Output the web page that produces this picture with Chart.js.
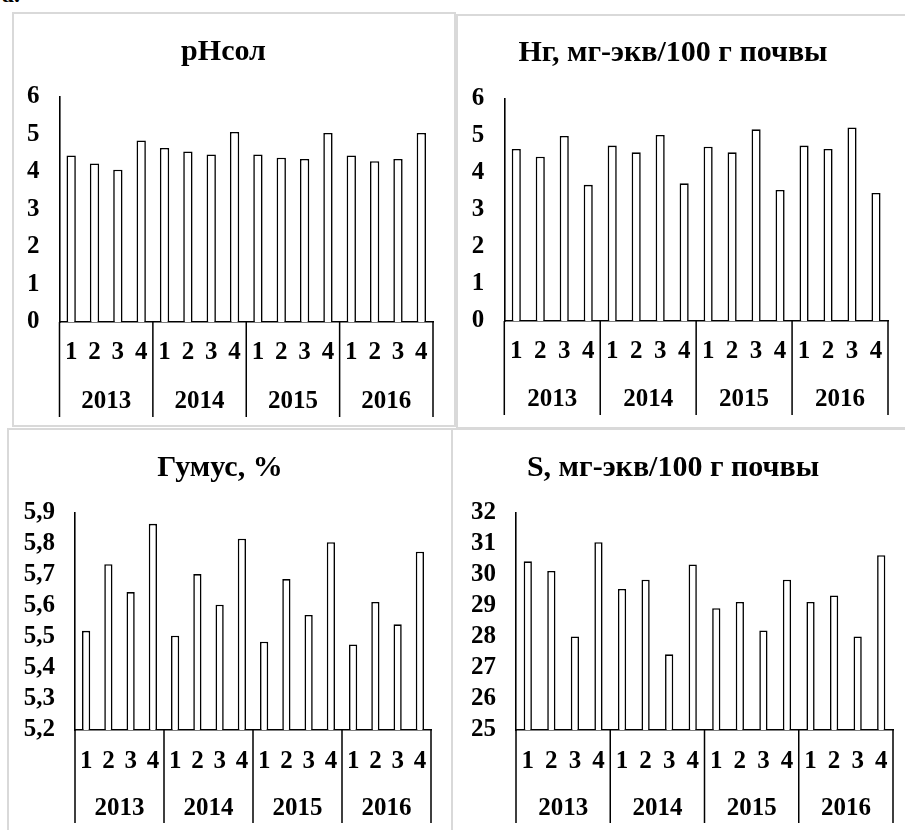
<!DOCTYPE html>
<html>
<head>
<meta charset="utf-8">
<title>Показатели почвы 2013–2016</title>
<script src="https://cdn.jsdelivr.net/npm/chart.js@4.4.1/dist/chart.umd.min.js"></script>
<style>
  html, body { margin: 0; padding: 0; background: #fff; }
  body { position: relative; width: 905px; height: 830px; overflow: hidden; }
  .panel { position: absolute; border: 2px solid #d9d9d9; background: #fff; }
  .panel canvas { display: block; }
  #tag { position: absolute; left: 2px; top: -18px; font: bold 24px/24px "Liberation Serif", "Times New Roman", serif; color: #000; }
</style>
</head>
<body>
<div id="tag">а.</div>
<div class="panel" style="left:12px;top:12px"><canvas id="chartPh" width="440" height="411"></canvas></div>
<div class="panel" style="left:456px;top:14px"><canvas id="chartHg" width="454" height="411"></canvas></div>
<div class="panel" style="left:7px;top:428px"><canvas id="chartHumus" width="442" height="400"></canvas></div>
<div class="panel" style="left:451px;top:428px"><canvas id="chartS" width="464" height="400"></canvas></div>

<script>
/* ── Data ──────────────────────────────────────────────── */
const YEARS    = ["2013", "2014", "2015", "2016"];
const QUARTERS = ["1", "2", "3", "4"];

const PH_VALUES    = [4.44, 4.23, 4.06, 4.84, 4.64, 4.55, 4.47, 5.07, 4.47, 4.38, 4.35, 5.04, 4.44, 4.29, 4.35, 5.04];
const HG_VALUES    = [4.65, 4.44, 5.00, 3.68, 4.74, 4.56, 5.03, 3.72, 4.71, 4.56, 5.18, 3.54, 4.74, 4.65, 5.23, 3.46];
const HUMUS_VALUES = [5.52, 5.735, 5.645, 5.865, 5.504, 5.703, 5.604, 5.817, 5.485, 5.687, 5.571, 5.806, 5.476, 5.613, 5.541, 5.775];
const S_VALUES     = [30.44, 30.13, 28.02, 31.06, 29.55, 29.85, 27.44, 30.34, 28.93, 29.13, 28.21, 29.85, 29.13, 29.34, 28.02, 30.64];

const LABELS = YEARS.flatMap(() => QUARTERS);

/* ── Styling ───────────────────────────────────────────── */
const SERIF      = '"Liberation Serif", "Times New Roman", serif';
const TICK_SIZE  = 25;
const TITLE_SIZE = 30;
const INK        = "#000";

Chart.defaults.font.family = SERIF;

// vertical separators between years, from x axis line down through both label rows
const groupLines = {
  id: "groupLines",
  afterDraw(chart) {
    const x = chart.scales.x, x2 = chart.scales.x2;
    const step = x.getPixelForValue(1) - x.getPixelForValue(0);
    const ctx = chart.ctx;
    ctx.save();
    ctx.strokeStyle = INK;
    ctx.lineWidth = 1.5;
    ctx.beginPath();
    for (let g = 0; g <= YEARS.length; g++) {
      const px = x.getPixelForValue(g * QUARTERS.length) - step / 2;
      ctx.moveTo(px, x.top);
      ctx.lineTo(px, x2.bottom);
    }
    ctx.stroke();
    ctx.restore();
  },
};

function commaFmt(v) { return Number(v).toFixed(1).replace(".", ","); }

/* ── Panel builder ─────────────────────────────────────── */
function makePanel(id, o) {
  const g = o.geom;
  const half = TICK_SIZE * 1.2 / 2;
  const mid  = (g.row1 + g.row2) / 2;
  const canvas = document.getElementById(id);
  const tickFont = { family: SERIF, size: TICK_SIZE, weight: "bold" };

  new Chart(canvas, {
    type: "bar",
    data: {
      labels: LABELS,
      datasets: [{
        data: o.values,
        backgroundColor: "#fff",
        borderColor: INK,
        borderWidth: 1.6,
        barPercentage: o.barPct,
        categoryPercentage: 1,
      }],
    },
    options: {
      responsive: false,
      animation: false,
      events: [],
      layout: { padding: { left: 0, right: g.padR, top: 0, bottom: canvas.height - g.sepBottom } },
      plugins: {
        legend: { display: false },
        tooltip: { enabled: false },
        title: {
          display: true,
          text: o.title,
          color: INK,
          font: { family: SERIF, size: TITLE_SIZE, weight: "bold" },
          padding: { top: g.titleY - TITLE_SIZE * 0.6, bottom: g.top - g.titleY - TITLE_SIZE * 0.6 },
        },
      },
      scales: {
        x: {
          type: "category",
          weight: 0,
          offset: true,
          grid: { display: false, drawTicks: false, offset: true },
          border: { display: true, color: INK, width: 1.6 },
          ticks: { color: INK, font: tickFont, padding: g.row1 - g.bottom - half, autoSkip: false, maxRotation: 0 },
          afterFit(s) { s.height = mid - g.bottom; },
        },
        x2: {
          type: "category",
          position: "bottom",
          weight: 1,
          labels: YEARS,
          offset: true,
          grid: { display: false, drawTicks: false },
          border: { display: false },
          ticks: { color: INK, font: tickFont, padding: g.row2 - mid - half, autoSkip: false, maxRotation: 0 },
          afterFit(s) { s.height = g.sepBottom - mid; },
        },
        y: {
          min: o.yMin,
          max: o.yMax,
          beginAtZero: false,
          grid: { display: false, drawTicks: false },
          border: { display: true, color: INK, width: 1.6 },
          ticks: { color: INK, font: tickFont, padding: 20, stepSize: o.step, autoSkip: false, callback: o.fmt },
          afterFit(s) { s.width = g.left; },
        },
      },
    },
    plugins: [groupLines],
  });
}

makePanel("chartPh", {
  title: "pHсол", values: PH_VALUES, yMin: 0, yMax: 6, step: 1, fmt: v => String(v), barPct: 0.4,
  geom: { left: 45.5, padR: 21, top: 83, bottom: 308, row1: 339, row2: 388, sepBottom: 403, titleY: 38 },
});

makePanel("chartHg", {
  title: "Нг, мг-экв/100 г почвы", values: HG_VALUES, yMin: 0, yMax: 6, step: 1, fmt: v => String(v), barPct: 0.38,
  geom: { left: 46.3, padR: 24, top: 83, bottom: 305, row1: 335.7, row2: 384, sepBottom: 399, titleY: 37.3 },
});

makePanel("chartHumus", {
  title: "Гумус, %", values: HUMUS_VALUES, yMin: 5.2, yMax: 5.9, step: 0.1, fmt: commaFmt, barPct: 0.37,
  geom: { left: 66, padR: 20, top: 83, bottom: 300, row1: 331.7, row2: 378.3, sepBottom: 393, titleY: 38.3 },
});

makePanel("chartS", {
  title: "S, мг-экв/100 г почвы", values: S_VALUES, yMin: 25, yMax: 32, step: 1, fmt: v => String(v), barPct: 0.35,
  geom: { left: 63, padR: 24, top: 83, bottom: 300, row1: 331.7, row2: 378.3, sepBottom: 393, titleY: 38.3 },
});
</script>
</body>
</html>
